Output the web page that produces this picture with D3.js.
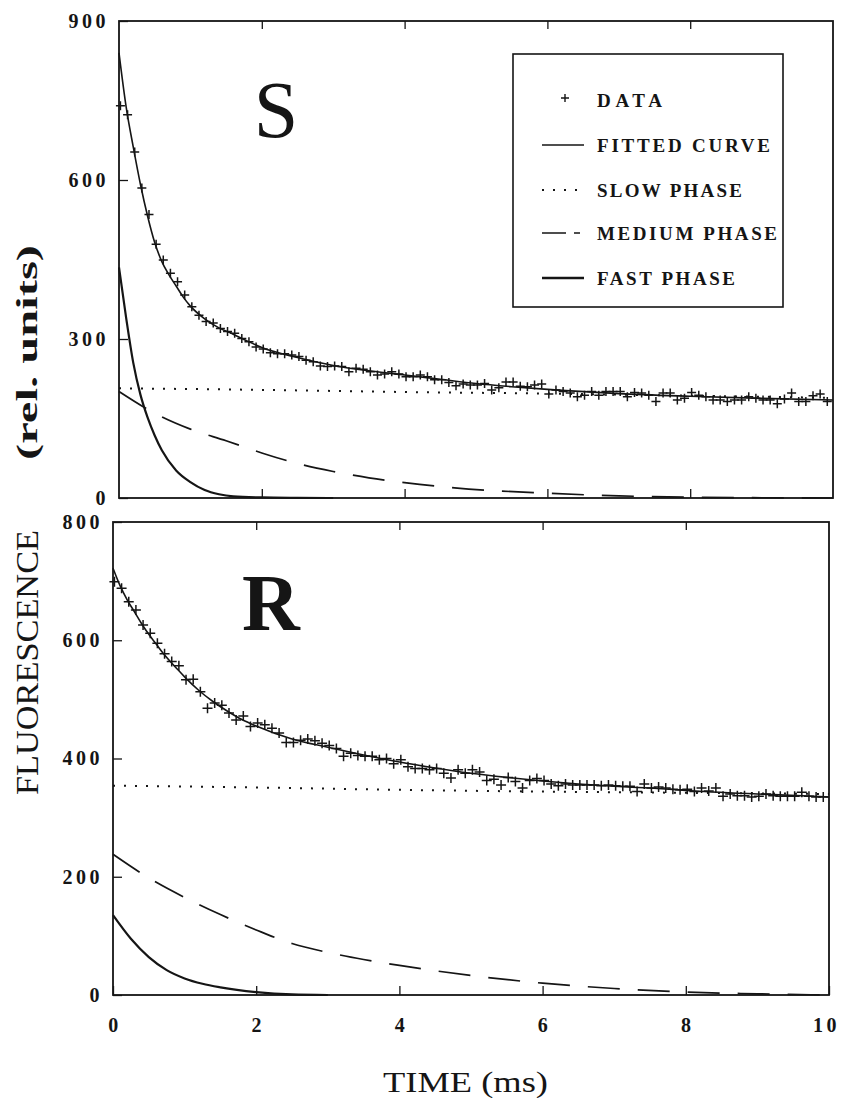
<!DOCTYPE html>
<html><head><meta charset="utf-8">
<script src="https://cdn.jsdelivr.net/npm/d3@7"></script>
<style>body{margin:0;background:#fff}</style>
</head><body>
<svg id="c" width="843" height="1098"></svg>
<script>
// ---------- DATA ----------
const sampleStart = 0.02, sampleStep = 0.1;   // ms, data sampling
const xTicks = [0, 2, 4, 6, 8, 10];
const yTicksS = [0, 300, 600, 900];
const yTicksR = [0, 200, 400, 600, 800];

// Panel S : measured points
const dataS = [740,723,653,585,535,479,449,424,408,383,361,345,333,330,320,314,311,301,295,285,
  281,274,272,272,270,267,260,257,249,248,249,248,238,245,243,238,232,234,238,234,
  229,229,232,229,223,223,218,212,215,213,213,216,204,208,219,219,211,210,213,215,
  196,204,201,198,191,194,201,194,201,201,201,191,199,198,194,182,198,198,185,188,
  199,194,191,185,185,182,185,185,191,188,185,185,178,187,198,182,182,193,196,182];
const fitTimesS = [0,0.1,0.2,0.3,0.4,0.5,0.6,0.7,0.8,0.9,1.0,1.2,1.4,1.6,1.8,2.0,2.5,3.0,3.5,4.0,4.5,5.0,5.5,6.0,7.0,8.0,9.0,10.0];
const fitS      = [840,738,662,592,532,482,446,421,400,379,362,338,321,309,296,284,265,250,240,232,224,216,210,205,197,192,188,185];
const slowTimesS = [0,2,4,6,8,10];
const slowS      = [207,204,200,197,193,189];
const medTimesS = [0,0.5,1,1.5,2,2.5,3,3.5,4,4.7,6,7,8,9,10];
const medS      = [201,160,130,108,85,65,50,38,29,19,9,4,1.5,0.5,0];
const fastTimesS = [0,0.1,0.2,0.3,0.4,0.5,0.6,0.8,1.0,1.2,1.4,1.6,2.0,2.5,3.0];
const fastS      = [435,340,255,195,152,118,90,52,30,15,7,3,1,0.3,0];

// Panel R : measured points
const dataR = [699,688,665,651,626,612,595,577,564,557,533,534,513,485,494,490,477,465,472,454,
  460,457,451,443,427,427,431,433,430,426,422,417,404,409,405,404,404,398,400,391,
  398,386,383,383,381,383,375,367,381,375,381,377,363,365,355,368,361,350,363,366,
  363,357,354,357,355,355,355,355,354,355,354,353,353,344,357,350,352,350,348,347,
  348,344,350,345,350,336,340,337,337,335,336,340,337,336,336,336,343,336,335,335];
const fitTimesR = [0,0.1,0.2,0.3,0.4,0.5,0.6,0.7,0.8,0.9,1.0,1.2,1.4,1.6,1.8,2.0,2.5,3.0,3.5,4.0,4.5,5.0,5.5,6.0,6.5,7.0,7.5,8.0,9.0,10.0];
const fitR      = [722,692,668,648,628,610,594,578,564,551,538,515,496,480,466,455,433,419,406,394,384,375,368,362,357,353,350,346,340,335];
const slowTimesR = [0,2,4,6,8,10];
const slowR      = [354,351,347,344,342,340];
const medTimesR = [0,0.5,1,1.5,2,2.5,3,3.5,4,4.5,5,6,7,8,9,10];
const medR      = [238,198,165,136,110,87,72,60,50,41,33,20,11,5,2,0];
const fastTimesR = [0,0.25,0.5,0.75,1,1.25,1.5,2,2.5,3];
const fastR      = [135,95,64,42,28,19,13,5,1,0];

const legendLabels = ["DATA", "FITTED CURVE", "SLOW PHASE", "MEDIUM PHASE", "FAST PHASE"];

// ---------- DRAW ----------
const svg = d3.select("#c");
svg.append("rect").attr("width", 843).attr("height", 1098).attr("fill", "#fff");
const INK = "#151515";
const tickFont = "'Liberation Serif', serif";

function pairs(ts, vs) { return ts.map((t, i) => [t, vs[i]]); }

function panel(o) {
  const x = d3.scaleLinear().domain([0, 10]).range([o.x0, o.x1]);
  const y = d3.scaleLinear().domain([0, o.ymax]).range([o.y0, o.y1]);
  const g = svg.append("g");

  // axes (ticks inside)
  const gl = g.append("g").attr("transform", `translate(${o.x0},0)`)
    .call(d3.axisLeft(y).tickValues(o.yTicks).tickSize(-9).tickPadding(10));
  const gt = g.append("g").attr("transform", `translate(0,${o.y1})`)
    .call(d3.axisTop(x).tickValues([2,4,6,8]).tickSize(-8).tickFormat(""));
  const gb = g.append("g").attr("transform", `translate(0,${o.y0})`)
    .call(d3.axisBottom(x).tickValues(o.showX ? xTicks : [2,4,6,8]).tickSize(-9).tickPadding(23)
      .tickFormat(o.showX ? d3.format("d") : ""));
  [gl, gt, gb].forEach(a => {
    a.select(".domain").remove();
    a.selectAll(".tick line").attr("stroke", INK).attr("stroke-width", 1.3);
    a.selectAll(".tick text").attr("fill", INK).attr("font-family", tickFont)
      .attr("font-weight", "bold").attr("font-size", 20).attr("letter-spacing", "3.5px");
  });
  gb.selectAll(".tick text").attr("dx", d => d === 10 ? "-3px" : "1.5px");

  // frame
  g.append("rect").attr("x", o.x0).attr("y", o.y1).attr("width", o.x1 - o.x0).attr("height", o.y0 - o.y1)
    .attr("fill", "none").attr("stroke", INK).attr("stroke-width", 1.8);

  const line = d3.line().x(d => x(d[0])).y(d => y(d[1])).curve(d3.curveMonotoneX);
  const cl = g.append("g");
  cl.append("path").attr("d", line(pairs(o.slowT, o.slow))).attr("fill", "none")
    .attr("stroke", INK).attr("stroke-width", 2).attr("stroke-dasharray", "2,9");
  cl.append("path").attr("d", line(pairs(o.medT, o.med))).attr("fill", "none")
    .attr("stroke", INK).attr("stroke-width", 1.7).attr("stroke-dasharray", "32,18");
  cl.append("path").attr("d", line(pairs(o.fastT, o.fast))).attr("fill", "none")
    .attr("stroke", INK).attr("stroke-width", 2.2);
  cl.append("path").attr("d", line(pairs(o.fitT, o.fit))).attr("fill", "none")
    .attr("stroke", INK).attr("stroke-width", 1.6);

  // data "+"
  const pts = o.data.map((v, i) => [sampleStart + sampleStep * i, v]);
  const arm = o.arm;
  g.append("g").selectAll("path").data(pts).join("path")
    .attr("d", d => {
      const px = x(d[0]), py = y(d[1]);
      return `M${px - arm},${py}H${px + arm}M${px},${py - arm}V${py + arm}`;
    })
    .attr("stroke", INK).attr("stroke-width", 1.5).attr("fill", "none");

  // panel letter
  g.append("text").attr("x", o.lx).attr("y", o.ly).attr("text-anchor", "middle")
    .attr("font-family", "'Liberation Serif', serif").attr("font-size", 80)
    .attr("font-weight", o.lw).attr("fill", INK).text(o.letter);
  return { x, y };
}

panel({ x0: 119, x1: 833, y0: 498, y1: 21, ymax: 900, yTicks: yTicksS, showX: false,
  data: dataS, fitT: fitTimesS, fit: fitS, slowT: slowTimesS, slow: slowS,
  medT: medTimesS, med: medS, fastT: fastTimesS, fast: fastS, arm: 4.5,
  letter: "S", lx: 276, ly: 137, lw: "normal" });

panel({ x0: 113, x1: 829, y0: 995, y1: 522, ymax: 800, yTicks: yTicksR, showX: true,
  data: dataR, fitT: fitTimesR, fit: fitR, slowT: slowTimesR, slow: slowR,
  medT: medTimesR, med: medR, fastT: fastTimesR, fast: fastR, arm: 5,
  letter: "R", lx: 271, ly: 630, lw: "bold" });

// ---------- LEGEND ----------
const lg = svg.append("g");
lg.append("rect").attr("x", 513).attr("y", 54).attr("width", 270).attr("height", 253)
  .attr("fill", "#fff").attr("stroke", INK).attr("stroke-width", 1.6);
const rowY = [100, 145, 190, 233, 278];
const labelLen = [65, 173, 145, 180, 138];
const styles = [null,
  { w: 1.4, da: null },
  { w: 2, da: "2,9" },
  { w: 1.6, da: "24,8,6,100" },
  { w: 2.6, da: null }];
legendLabels.forEach((lab, i) => {
  const cy = rowY[i];
  if (i === 0) {
    lg.append("path").attr("d", `M561,${cy - 2}H569M565,${cy - 6}V${cy + 2}`)
      .attr("stroke", INK).attr("stroke-width", 1.4);
  } else {
    const s = styles[i];
    lg.append("line").attr("x1", 542).attr("x2", 584).attr("y1", cy).attr("y2", cy)
      .attr("stroke", INK).attr("stroke-width", s.w).attr("stroke-dasharray", s.da);
  }
  lg.append("text").attr("x", 597).attr("y", cy + 6.5)
    .attr("font-family", "'Liberation Serif', serif").attr("font-weight", "bold")
    .attr("font-size", 19).attr("fill", INK)
    .attr("textLength", labelLen[i]).attr("lengthAdjust", "spacing").text(lab);
});

// ---------- AXIS TITLES ----------
svg.append("text").attr("transform", "translate(38,795) rotate(-90)")
  .attr("font-family", "'Liberation Serif', serif").attr("font-size", 31).attr("fill", INK)
  .attr("textLength", 265).attr("lengthAdjust", "spacingAndGlyphs").text("FLUORESCENCE");
svg.append("text").attr("transform", "translate(37,460) rotate(-90)")
  .attr("font-family", "'Liberation Serif', serif").attr("font-weight", "bold").attr("font-size", 29).attr("fill", INK)
  .attr("textLength", 215).attr("lengthAdjust", "spacingAndGlyphs").text("(rel. units)");
svg.append("text").attr("x", 383).attr("y", 1092)
  .attr("font-family", "'Liberation Serif', serif").attr("font-size", 29).attr("fill", INK)
  .attr("textLength", 165).attr("lengthAdjust", "spacingAndGlyphs").text("TIME (ms)");
</script>
</body></html>
